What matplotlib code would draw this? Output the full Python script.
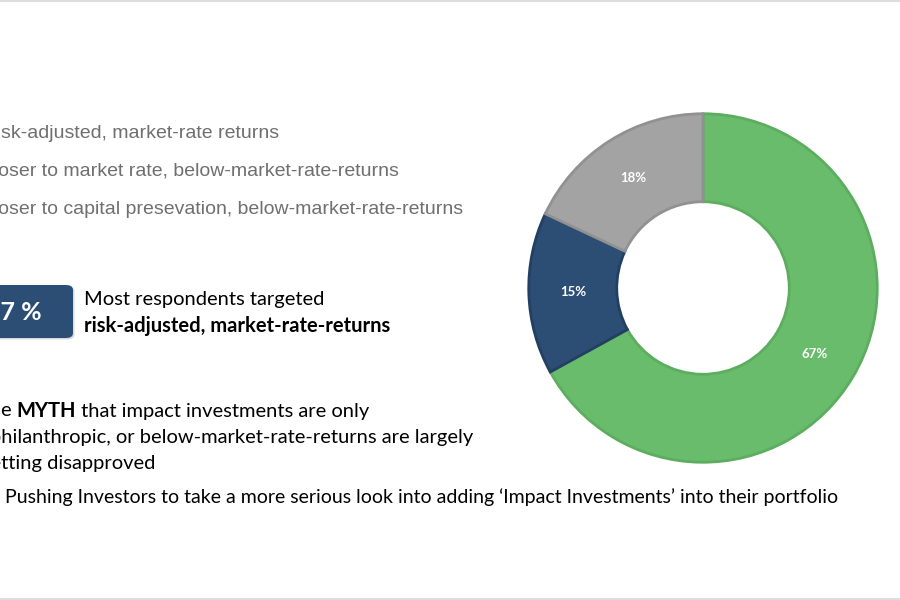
import matplotlib.pyplot as plt
from matplotlib.patches import FancyBboxPatch
from matplotlib.lines import Line2D

# donut data (clockwise from 12 o'clock)
shares = [67, 15, 18]
share_labels = ['67%', '15%', '18%']
colors = ['#69BC6B', '#2C4E75', '#A3A3A3']
edge_colors = ['#5DAD5F', '#233F62', '#919191']

# legend text (left part is cut off in the original slide)
legend_lines = ['risk-adjusted, market-rate returns',
                'closer to market rate, below-market-rate-returns',
                'closer to capital presevation, below-market-rate-returns']
legend_hidden = ['r', 'cl', 'cl']

headline = '67 %'
headline_hidden = '6'
note_1 = 'Most respondents targeted'
note_2 = 'risk-adjusted, market-rate-returns'

myth_lines = ['The MYTH that impact investments are only',
              'philanthropic, or below-market-rate-returns are largely',
              'getting disapproved']
myth_hidden = ['Th', 'p', 'ge']
last_line = 'Pushing Investors to take a more serious look into adding \u2018Impact Investments\u2019 into their portfolio'

W, H = 900, 600
fig = plt.figure(figsize=(9, 6), dpi=100)
renderer = fig.canvas.get_renderer()


def px(x, y):
    # image pixel coords -> figure fraction
    return x / W, 1 - y / H


def text_width(s, **kw):
    t = fig.text(0.5, 0.5, s, **kw)
    w = t.get_window_extent(renderer).width
    t.remove()
    return w


def clipped_text(s, hidden, x_vis, y, **kw):
    # place s so that the part after `hidden` starts at x_vis (pixels)
    w = text_width(s, **kw) - text_width(s[len(hidden):], **kw) if hidden else 0
    fx, fy = px(x_vis - w, y)
    return fig.text(fx, fy, s, va='center', ha='left', **kw)


# donut
cx, cy, r = 703, 288, 176
ax = fig.add_axes([(cx - r) / W, 1 - (cy + r) / H, 2 * r / W, 2 * r / H])
wedges, texts, autotexts = ax.pie(
    shares, colors=colors, startangle=90, counterclock=False,
    autopct=lambda p: '', pctdistance=0.745,
    wedgeprops=dict(width=0.505, linewidth=2.0))
for w, ec in zip(wedges, edge_colors):
    w.set_edgecolor(ec)
for at, lab in zip(autotexts, share_labels):
    at.set_text(lab)
    at.set_color('white')
    at.set_fontsize(9.5)
    at.set_fontweight('bold')
    at.set_family('Lato')
ax.set_xlim(-1.01, 1.01)
ax.set_ylim(-1.01, 1.01)
ax.set_aspect('equal')
ax.axis('off')

# grey legend lines
for s, hid, y, xv in zip(legend_lines, legend_hidden, [133, 171, 209], [-3, -2, -2]):
    clipped_text(s, hid, xv, y, fontsize=14, color='#6F6F6F',
                 family='Liberation Sans')

# headline box
sx, sy = px(-30, 339.5)
shadow = FancyBboxPatch((sx + 1.5 / W, sy), 103 / W, 53 / H,
                        boxstyle='round,pad=0,rounding_size=0.008',
                        transform=fig.transFigure, facecolor='#DADADA',
                        edgecolor='none')
fig.add_artist(shadow)
bx, by = px(-30, 338)
box = FancyBboxPatch((bx, by), 103 / W, 53 / H,
                     boxstyle='round,pad=0,rounding_size=0.008',
                     transform=fig.transFigure, facecolor='#2C4E75',
                     edgecolor='none')
fig.add_artist(box)
clipped_text(headline, headline_hidden, 0, 312, fontsize=18, color='white',
             fontweight='bold', family='Lato')

fs = 14.5
fig.text(*px(84, 299), note_1, va='center', fontsize=fs, color='black',
         family='Lato')
fig.text(*px(84, 326), note_2, va='center', fontsize=fs, color='black',
         family='Lato', fontweight='bold')

# myth lines
for s, hid, y in zip(myth_lines, myth_hidden, [411, 437, 463]):
    if 'MYTH' in s:
        t = clipped_text('The ', hid, 1, y, fontsize=fs, color='black', family='Lato')
        x0 = t.get_window_extent(renderer).x1
        t2 = fig.text(x0 / W, 1 - y / H, 'MYTH', va='center', fontsize=fs,
                      color='black', family='Lato', fontweight='bold')
        x1 = t2.get_window_extent(renderer).x1
        fig.text(x1 / W, 1 - y / H, ' that impact investments are only',
                 va='center', fontsize=fs, color='black', family='Lato')
    else:
        clipped_text(s, hid, 1, y, fontsize=fs, color='black', family='Lato')

fig.text(*px(5, 497), last_line, va='center', fontsize=14, color='black',
         family='Lato')

# slide border lines
fig.add_artist(Line2D([0, 1], [1 - 0.5 / H, 1 - 0.5 / H], color='#DDDDDD',
                      linewidth=1.5, transform=fig.transFigure))
fig.add_artist(Line2D([0, 1], [1.5 / H, 1.5 / H], color='#DDDDDD',
                      linewidth=1.5, transform=fig.transFigure))

fig.savefig('out.png', dpi=100)
